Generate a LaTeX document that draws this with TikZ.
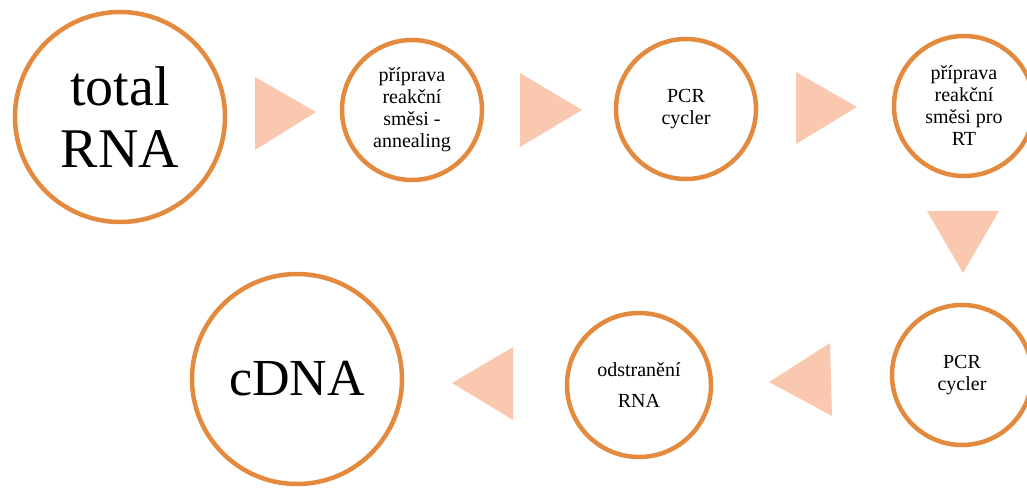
\documentclass[tikz,border=0pt]{standalone}
\usepackage{fontspec}
\setmainfont{Liberation Serif}
\definecolor{ringorange}{HTML}{E38A3F}
\definecolor{arrowpeach}{HTML}{FAC8AF}
\tikzset{
  ring/.style={circle, draw=ringorange, line width=4.5pt, fill=white, inner sep=0pt, align=center, text=black},
  bigring/.style={ring, minimum size=210pt, font=\fontsize{56}{62}\selectfont},
  smallring/.style={ring, minimum size=140pt, font=\fontsize{20}{22}\selectfont},
  peach/.style={fill=arrowpeach, draw=none}
}
\begin{document}
\begin{tikzpicture}[x=1pt,y=-1pt]
\useasboundingbox (0,0) rectangle (1027,487);
\clip (0,0) rectangle (1027,487);
% circles
\node[bigring] (total) at (120,117) {total\\RNA};
\node[smallring] (annealing) at (412,110) {příprava\\reakční\\směsi -\\annealing};
\node[smallring] (pcrA) at (686,109) {PCR\\cycler};
\node[smallring] (rt) at (964,106) {příprava\\reakční\\směsi pro\\RT};
\node[smallring] (pcrB) at (962,375) {PCR\\cycler};
\node[smallring, font=\fontsize{20}{31}\selectfont, minimum size=144pt] (odstr) at (639,385) {odstranění\\RNA};
\node[bigring, font=\fontsize{52}{62}\selectfont] (cdna) at (297,379) {cDNA};
% arrows (triangles)
\fill[peach] (255,77) -- (255,150) -- (316,112) -- cycle;
\fill[peach] (520,73) -- (520,147) -- (582,110) -- cycle;
\fill[peach] (796,72) -- (796,144) -- (857,107) -- cycle;
\fill[peach] (927,211) -- (999,211) -- (963,273) -- cycle;
\fill[peach] (830,343) -- (832,416) -- (769,382) -- cycle;
\fill[peach] (513,347) -- (513,420) -- (452,383) -- cycle;
\end{tikzpicture}
\end{document}
